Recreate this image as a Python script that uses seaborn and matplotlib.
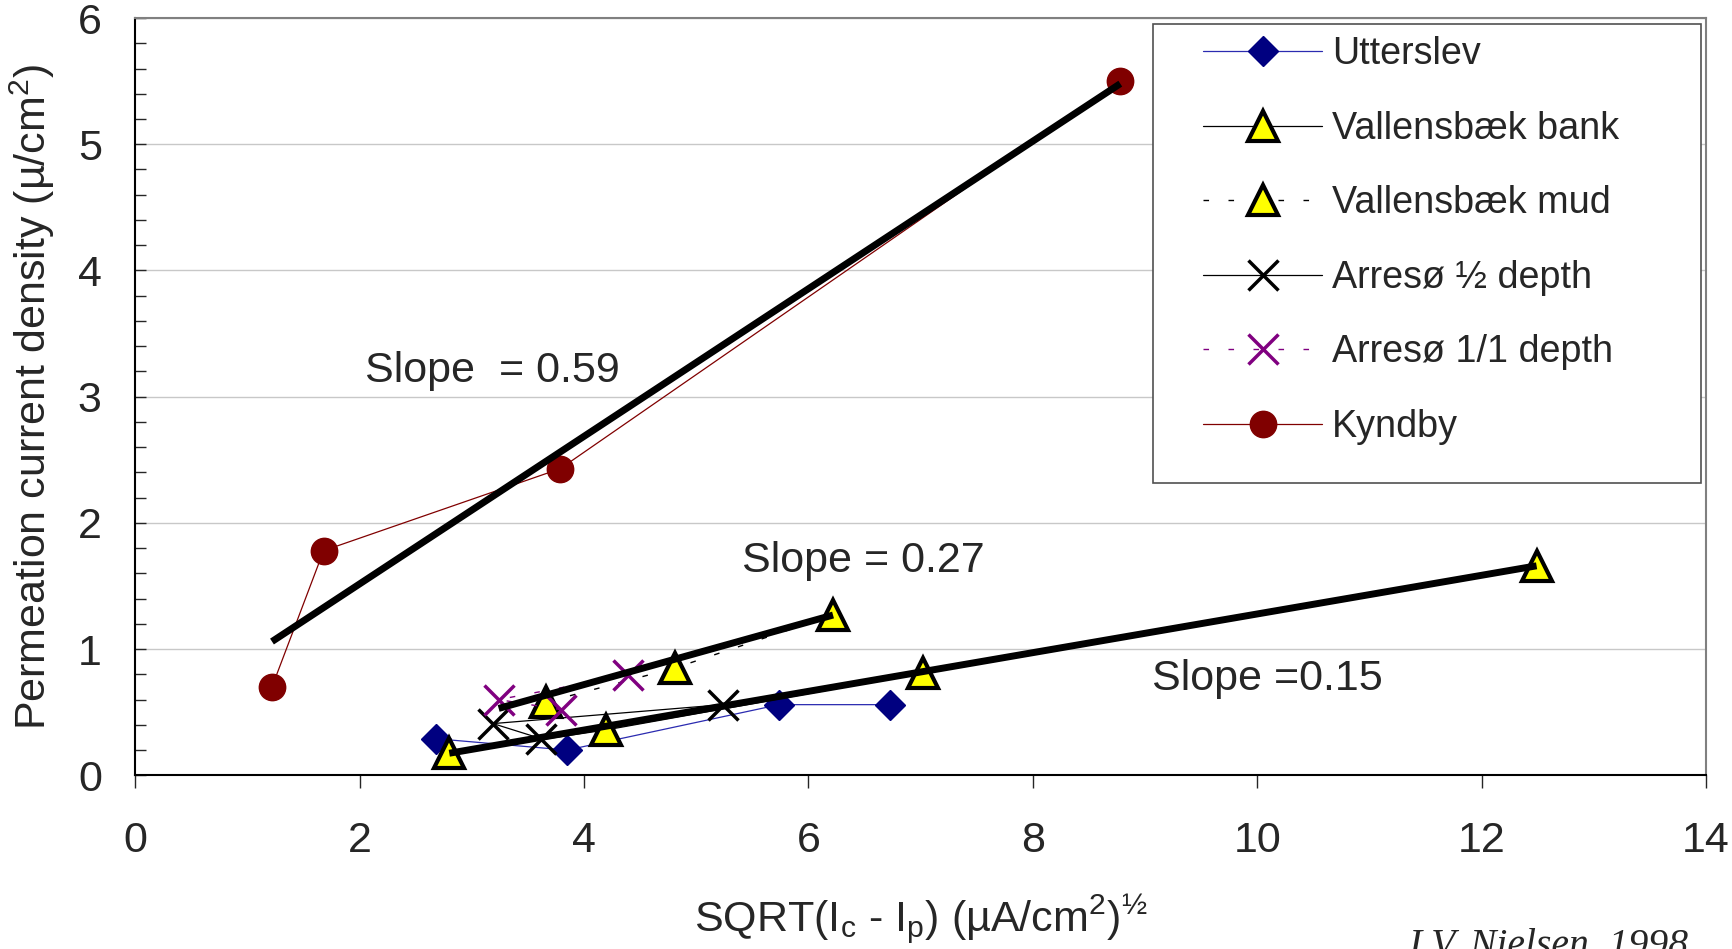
"""
Permeation current density vs SQRT(Ic - Ip) for the sampling sites
"""

import matplotlib
matplotlib.use("Agg")
import matplotlib.pyplot as plt
from matplotlib.patches import Rectangle
from matplotlib.ticker import MultipleLocator
import seaborn as sns

# data
utterslev_x = [2.68, 3.85, 5.74, 6.73]
utterslev_y = [0.29, 0.20, 0.56, 0.56]
bank_x = [2.80, 4.20, 7.02, 12.49]
bank_y = [0.175, 0.36, 0.81, 1.66]
mud_x = [3.66, 4.81, 6.22]
mud_y = [0.58, 0.85, 1.27]
arreso_half_x = [3.62, 3.19, 5.24]
arreso_half_y = [0.29, 0.41, 0.56]
arreso_full_x = [3.80, 3.24, 4.39]
arreso_full_y = [0.52, 0.60, 0.795]
kyndby_x = [1.22, 1.68, 3.79, 8.78]
kyndby_y = [0.70, 1.78, 2.43, 5.50]

# fitted lines (end points)
fit_x = [[1.22, 8.78], [3.24, 6.22], [2.80, 12.49]]
fit_y = [[1.06, 5.48], [0.53, 1.27], [0.175, 1.66]]
slope_labels = ["Slope  = 0.59", "Slope = 0.27", "Slope =0.15"]

FONT = "Liberation Sans"
FS = 31
LEG_FS = 27.2
dotted = (0, (4, 14))

sns.set_style("white")
plt.rcParams['font.family'] = [FONT, 'DejaVu Sans']
plt.rcParams['mathtext.fontset'] = 'custom'
plt.rcParams['mathtext.rm'] = FONT
plt.rcParams['mathtext.it'] = FONT + ':italic'
plt.rcParams['mathtext.bf'] = FONT + ':bold'

fig = plt.figure(figsize=(17.32, 9.49), dpi=100, facecolor='w')
ax = fig.add_axes([0.078, 0.183, 0.907, 0.798])

series = [
    ("Utterslev", utterslev_x, utterslev_y,
     dict(color='#2b2bb0', linewidth=0.9, linestyle='-', marker='D',
          markersize=15, markerfacecolor='#000080',
          markeredgecolor='#000080', markeredgewidth=1)),
    ("Vallensbæk bank", bank_x, bank_y,
     dict(color='black', linewidth=0.9, linestyle='-', marker='^',
          markersize=21, markerfacecolor='#ffff00',
          markeredgecolor='black', markeredgewidth=3)),
    ("Vallensbæk mud", mud_x, mud_y,
     dict(color='black', linewidth=1, linestyle=dotted, marker='^',
          markersize=21, markerfacecolor='#ffff00',
          markeredgecolor='black', markeredgewidth=3)),
    ("Arresø ½ depth", arreso_half_x, arreso_half_y,
     dict(color='black', linewidth=0.9, linestyle='-', marker='x',
          markersize=21, markerfacecolor='black',
          markeredgecolor='black', markeredgewidth=2.5)),
    ("Arresø 1/1 depth", arreso_full_x, arreso_full_y,
     dict(color='#800080', linewidth=1, linestyle=dotted, marker='x',
          markersize=21, markerfacecolor='#800080',
          markeredgecolor='#800080', markeredgewidth=2.5)),
    ("Kyndby", kyndby_x, kyndby_y,
     dict(color='#800000', linewidth=0.9, linestyle='-', marker='o',
          markersize=19, markerfacecolor='#800000',
          markeredgecolor='#800000', markeredgewidth=1)),
]

handles = []
for name, xs, ys, style in series:
    sns.lineplot(x=xs, y=ys, sort=False, estimator=None, ax=ax,
                 label=name, legend=False, zorder=3, **style)
    handles.append(ax.lines[-1])

for xs, ys in zip(fit_x, fit_y):
    sns.lineplot(x=xs, y=ys, sort=False, estimator=None, ax=ax,
                 color='black', linewidth=5, zorder=4,
                 solid_capstyle='butt', legend=False)

ax.text(2.05, 3.2, slope_labels[0], fontsize=FS, va='center')
ax.text(5.41, 1.70, slope_labels[1], fontsize=FS, va='center')
ax.text(9.06, 0.76, slope_labels[2], fontsize=FS, va='center')

ax.set_xlim(0, 14)
ax.set_ylim(0, 6)
ax.xaxis.set_major_locator(MultipleLocator(2))
ax.yaxis.set_major_locator(MultipleLocator(1))
ax.yaxis.set_minor_locator(MultipleLocator(0.2))
ax.grid(axis='y', which='major', color='#c8c8c8', linewidth=1)
ax.set_axisbelow(True)

ax.tick_params(axis='y', which='both', direction='in', length=8,
               width=1, labelsize=FS, pad=24, left=True)
ax.tick_params(axis='x', which='major', direction='out', length=9.5,
               width=1, labelsize=FS, pad=23.5, bottom=True)

for side in ['left', 'bottom']:
    ax.spines[side].set_color('black')
    ax.spines[side].set_linewidth(1.5)
for side in ['top', 'right']:
    ax.spines[side].set_color('#808080')
    ax.spines[side].set_linewidth(1.5)

ax.set_xlabel(r"SQRT(I$_{\mathrm{c}}$ - I$_{\mathrm{p}}$) "
              r"(µA/cm$^{\mathrm{2}}$)$^{\mathrm{½}}$", fontsize=FS)
ax.set_ylabel(r"Permeation current density (µ/cm$^{\mathrm{2}}$)",
              fontsize=FS)
ax.xaxis.set_label_coords(0.5, -0.154)
ax.yaxis.set_label_coords(-0.050, 0.5)

# legend box drawn by hand to get the wide frame
ax.add_patch(Rectangle((0.648, 0.386), 0.349, 0.606,
                       transform=ax.transAxes, fill=True,
                       facecolor='white', edgecolor='#505050',
                       linewidth=1.2, zorder=6))
leg = ax.legend(handles=handles, loc='upper left',
                bbox_to_anchor=(0.680, 0.976), frameon=False,
                borderpad=0, borderaxespad=0, handlelength=3.15,
                handletextpad=0.25, labelspacing=1.02, fontsize=LEG_FS)
leg.set_zorder(7)

fig.text(0.813, 0.022, "I.V. Nielsen, 1998", fontsize=28.5,
         fontstyle='italic', family='Liberation Serif', va='top')

fig.savefig("out.png", dpi=100)
